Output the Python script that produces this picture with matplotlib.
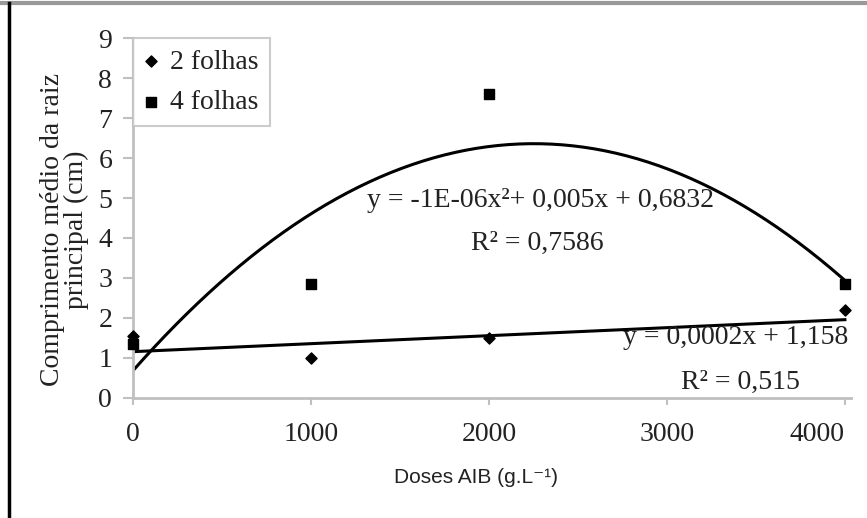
import numpy as np
import matplotlib
matplotlib.use('Agg')
import matplotlib.pyplot as plt
from matplotlib.lines import Line2D

# data
doses = [0, 1000, 2000, 4000]
folhas2 = [1.55, 1.0, 1.5, 2.2]
folhas4 = [1.35, 2.85, 7.6, 2.85]

# Excel trend lines (coefficients adjusted to the drawn curves)
lin_coef = [0.0002, 1.158]
quad_coef = [-1.119e-06, 0.00504, 0.6832]

x_ticks = [0, 1000, 2000, 3000, 4000]
y_ticks = list(range(0, 10))

serif = ['Liberation Serif', 'DejaVu Serif']
sans = ['Liberation Sans', 'DejaVu Sans']
axis_grey = '#c0c0c0'
txt = '#222222'
fs = 20

fig = plt.figure(figsize=(8.67, 5.18), dpi=100)
fig.patch.set_facecolor('white')
ax = fig.add_axes([0.1534, 0.2317, 0.8281, 0.6949])

xs = np.linspace(0, 4000, 200)
ax.plot(xs, np.polyval(quad_coef, xs), color='black', lw=2.2, zorder=2)
ax.plot(xs, np.polyval(lin_coef, xs), color='black', lw=2.2, zorder=2)

ax.scatter(doses, folhas2, marker='D', s=32, color='black', label='2 folhas',
           zorder=4, clip_on=False)
ax.scatter(doses, folhas4, marker='s', s=55, color='black', label='4 folhas',
           zorder=3, clip_on=False)

ax.set_xlim(0, 4034)
ax.set_ylim(0, 9)
ax.set_xticks(x_ticks)
ax.set_yticks(y_ticks)
ax.set_xticklabels([str(v) for v in x_ticks], family=serif, fontsize=fs, color=txt)
ax.set_yticklabels([str(v) for v in y_ticks], family=serif, fontsize=fs, color=txt)
ax.get_xticklabels()[-1].set_ha('right')

for s in ['top', 'right']:
    ax.spines[s].set_visible(False)
for s in ['left', 'bottom']:
    ax.spines[s].set_color(axis_grey)
    ax.spines[s].set_linewidth(2)
ax.tick_params(axis='x', length=5, width=1.5, color=axis_grey, pad=12)
ax.tick_params(axis='y', length=7, width=1.5, color=axis_grey, pad=8)

ax.set_xlabel('Doses AIB (g.L⁻¹)', family=sans, fontsize=15, color=txt)
ax.xaxis.set_label_coords(0.478, -0.195)
ax.set_ylabel('Comprimento médio da raiz\nprincipal (cm)', family=serif, fontsize=fs,
              color=txt, linespacing=0.95)
ax.yaxis.set_label_coords(-0.061, 0.467)

# equations
ax.text(0.567, 0.55, 'y = -1E-06x²+ 0,005x + 0,6832', transform=ax.transAxes,
        ha='center', va='center', family=serif, fontsize=fs, color=txt)
ax.text(0.563, 0.43, 'R² = 0,7586', transform=ax.transAxes,
        ha='center', va='center', family=serif, fontsize=fs, color=txt)
ax.text(0.996, 0.167, 'y = 0,0002x + 1,158', transform=ax.transAxes,
        ha='right', va='center', family=serif, fontsize=fs, color=txt)
ax.text(0.929, 0.042, 'R² = 0,515', transform=ax.transAxes,
        ha='right', va='center', family=serif, fontsize=fs, color=txt)

leg = ax.legend(loc='upper left', bbox_to_anchor=(0, 1), borderaxespad=0,
                fancybox=False, edgecolor=axis_grey, handlelength=0.5,
                handletextpad=0.45, borderpad=0.4, labelspacing=0.55,
                prop={'family': serif, 'size': fs}, labelcolor=txt)
leg.get_frame().set_linewidth(1.5)

# screenshot frame
fig.add_artist(Line2D([0, 1], [0.994, 0.994], transform=fig.transFigure,
                      color='#999999', lw=3))
fig.add_artist(Line2D([0.01, 0.01], [0, 0.994], transform=fig.transFigure,
                      color='black', lw=2.5))

fig.savefig('out.png', dpi=100, facecolor='white')
